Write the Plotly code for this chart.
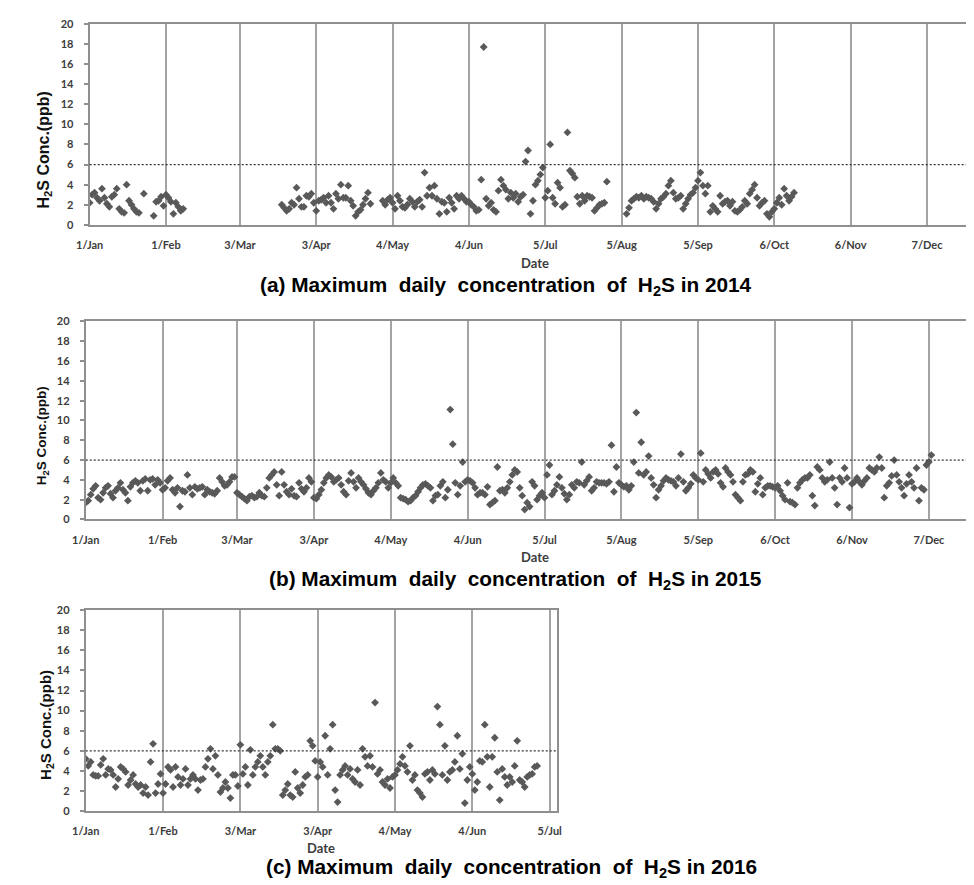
import plotly.graph_objects as go
import pandas as pd

W, H = 974, 885

# ---------------- data (maximum daily H2S concentration, ppb) ----------------
tick_labels_full = ["1/Jan", "1/Feb", "3/Mar", "3/Apr", "4/May", "4/Jun",
                    "5/Jul", "5/Aug", "5/Sep", "6/Oct", "6/Nov", "7/Dec"]
tick_labels_2016 = ["1/Jan", "1/Feb", "3/Mar", "3/Apr", "4/May", "4/Jun", "5/Jul"]
threshold_ppb = 6

# 2014: Jan 1 -> Feb 8
start_2014_a = "2014-01-01"
conc_2014_a = [2.2, 3.0, 3.2, 2.7, 2.4, 3.6, 2.7, 2.1, 1.8, 2.8,
               3.0, 3.6, 1.6, 1.3, 1.2, 4.0, 2.4, 2.0, 1.6, 1.3,
               1.2, None, 3.1, None, None, None, 0.9, 2.3, 2.4, 2.8,
               1.9, 3.0, 2.7, 2.3, 1.1, 2.2, 1.8, 1.4, 1.6]
# 2014: Mar 20 -> Oct 14
start_2014_b = "2014-03-20"
conc_2014_b = [2.0, 1.7, 1.4, 1.6, 2.2, 2.0, 3.7, 2.6, 1.8, 1.8,
               2.9, 2.8, 3.1, 2.2, 1.4, 2.4, 2.5, 2.7, 2.2, 2.9,
               2.2, 1.6, 3.1, 2.6, 4.0, 2.7, 2.7, 3.9, 2.4, 1.9,
               0.9, 1.3, 1.5, 2.0, 2.6, 3.2, 2.1,
               None, None, None, None,
               2.4, 2.0, 2.5, 2.7, 2.2, 1.6, 2.9, 2.4, 1.8, 1.7,
               2.0, 2.6, 2.3, 1.8, 2.3, 2.5, 1.8, 5.2, 2.9, 3.7,
               2.9, 3.9, 2.6, 1.1, 2.3, 2.2, 1.3, 2.7, 2.2, 1.6,
               2.9, 2.6, 2.9, 2.6, 2.3, 2.3, 2.0, 1.8, 1.4, 1.5,
               4.5, 17.7, 2.6, 1.9, 2.2, 1.5, 1.3, 3.4, 4.5, 3.9,
               3.5, 2.6, 3.2, 2.7, 3.1, 2.3, 2.8, 3.0, 6.3, 7.4,
               1.1, 2.4, 4.0, 4.4, 5.0, 5.7, 2.7, 3.4, 8.0, 2.7,
               2.1, 4.2, 3.7, 1.8, 2.0, 9.2, 5.4, 5.1, 4.7, 2.8,
               2.1, 2.9, 2.4, 2.9, 2.8, 2.7, 1.4, 1.7, 2.0, 2.1,
               2.2, 4.3,
               None, None, None, None, None, None, None,
               1.1, 1.7, 2.4, 2.6, 2.8, 2.7, 2.9, 2.6, 2.8,
               2.7, 2.6, 2.3, 1.6, 2.1, 2.6, 2.8, 3.1, 3.9, 4.4,
               3.2, 2.6, 2.7, 2.9, 1.6, 2.1, 2.6, 3.0, 3.2, 3.7,
               4.4, 5.2, 3.9, 3.1, 3.9, 1.3, 1.9, 1.6, 1.3, 2.9,
               2.1, 2.3, 2.4, 1.9, 2.3, 1.4, 1.3, 1.5, 1.8, 2.4,
               2.1, 3.1, 3.5, 4.0, 2.7, 1.9, 2.2, 2.4, 1.1, 0.8,
               1.3, 1.6, 2.2, 2.7, 2.0, 3.6, 2.9, 2.4, 2.8, 3.2]

# 2015: Jan 1 -> Dec 8
start_2015 = "2015-01-01"
conc_2015 = [1.7, 1.9, 2.5, 3.1, 3.4, 2.2, 2.0, 2.7, 3.2, 3.4,
             2.6, 2.2, 2.9, 3.2, 3.7, 3.0, 2.7, 1.9, 3.3, 3.7,
             3.9, 3.7, 2.9, 3.9, 4.1, 2.9, 4.0, 4.1, 3.5, 4.0,
             3.7, 3.0, 3.2, 3.9, 4.2, 3.0, 2.7, 3.2, 1.3, 2.9,
             2.8, 4.5, 3.2, 2.5, 3.3, 3.1, 3.2, 3.3, 2.5, 3.0,
             2.8, 2.7, 2.6, 2.9, 4.2, 3.8, 3.4, 3.5, 3.8, 4.3,
             4.3, 2.7, 2.5, 2.3, 2.1, 1.9, 2.3, 2.4, 2.2, 2.3,
             2.7, 2.4, 2.3, 3.2, 4.2, 4.5, 4.8, 3.5, 2.4, 4.8,
             3.5, 2.8, 2.5, 3.1, 2.4, 2.3, 3.7, 3.1, 2.8, 3.2,
             4.2, 3.8, 2.2, 2.1, 2.5, 3.0, 3.7, 4.2, 4.5, 4.3,
             3.8,
             4.0, 4.2, 3.5, 2.8, 2.5, 3.9, 4.7, 3.8, 3.2, 4.2,
             3.8, 3.5, 3.1, 2.7, 2.5, 2.9, 3.2, 3.7, 4.7, 4.0,
             3.8, 3.2, 3.7, 4.2, 3.7, 3.4, 2.2, 2.1, 2.0, 1.8,
             1.9, 2.2, 2.4, 2.8, 3.2, 3.5, 3.6, 3.4, 3.2, 1.9,
             2.4, 2.5, 3.4, 3.8, 2.2, 3.0, 11.1, 7.6, 3.7, 2.5,
             3.4, 5.8, 3.8, 4.0, 3.9, 3.7, 3.2, 2.5, 2.7, 2.7,
             2.5, 3.3, 1.5, 1.7, 1.9, 5.3, 2.9, 3.0, 2.7, 3.2,
             3.8, 4.5, 5.0, 4.8, 3.2, 2.4, 1.0, 1.7, 1.3, 3.8,
             3.4, 2.0, 2.4, 2.7, 2.2, 4.5, 5.5, 2.5, 2.9, 3.5,
             4.3, 3.2, 2.6, 2.0, 2.5, 3.5, 3.2, 3.8, 3.7, 5.8,
             3.5, 3.9, 4.3, 2.9, 3.2, 3.8, 3.7, 3.7, 3.7, 3.6,
             3.8, 7.5, 2.8, 5.3, 3.7, 3.5, 3.3, 3.4, 3.0, 3.4,
             5.8, 10.8, 4.7, 7.8, 4.5, 4.8, 6.4, 4.2, 3.5, 2.2,
             3.0, 3.4, 3.9, 4.2, 4.0, 3.9, 3.8, 3.4, 4.2, 6.6,
             3.8, 2.9, 3.2, 3.6, 4.5, 4.2, 4.0, 6.7, 3.8, 5.0,
             4.6, 4.2, 4.8, 5.0, 4.6, 3.7, 3.3, 5.2, 4.8, 4.5,
             3.8, 2.5, 2.2, 1.9, 3.8, 4.5, 4.6, 5.0, 4.8, 2.8,
             3.6, 4.2, 2.5, 3.2, 3.4, 3.4, 3.3, 3.2, 3.4, 2.9,
             2.4, 2.0, 3.7, 1.8, 1.7, 1.5, 3.2, 3.7, 4.0, 4.2,
             4.2, 4.5, 2.4, 1.4, 5.3, 5.0, 4.2, 3.8, 4.0, 5.8,
             4.2, 3.2, 1.5, 4.2, 3.8, 5.2, 4.2, 1.2, 3.6, 3.8,
             4.2, 3.8, 3.5, 3.9, 4.2, 5.2, 5.0, 4.8, 5.2, 6.3,
             5.2, 2.2, 3.4, 3.7, 4.4, 6.0, 4.5, 3.8, 3.2, 2.4,
             3.6, 4.5, 3.8, 3.2, 5.2, 1.9, 3.2, 3.0, 5.5, 5.8,
             6.5]

# 2016: Jan 1 -> Jun 30
start_2016 = "2016-01-01"
conc_2016 = [5.2, 4.5, 4.9, 3.6, 3.5, 3.5, 4.6, 5.2, 3.6, 4.2,
             4.1, 3.6, 2.4, 3.2, 4.4, 4.2, 3.9, 2.6, 3.1, 3.6,
             2.7, 2.4, 2.6, 1.8, 2.4, 1.6, 4.9, 6.7, 1.8, 2.7,
             3.7, 1.8, 2.7, 4.4, 4.1, 2.4, 4.4, 3.4, 2.6, 3.2,
             4.2, 2.6, 3.2, 3.6, 3.2, 2.1, 3.1, 3.2, 4.4, 5.2,
             6.2, 4.2, 5.5, 3.6, 1.9, 2.3, 2.9, 2.3, 1.3, 3.6,
             3.6, 2.5, 6.6, 3.7, 4.4, 2.6, 6.1, 3.6, 4.4, 4.9,
             5.5, 4.4, 3.6, 4.9, 5.5, 8.6, 6.2, 6.2, 6.0, 1.6,
             2.1, 2.7, 1.6, 1.4, 3.9, 2.3, 1.8, 2.6, 3.4, 3.6,
             7.0, 6.5, 5.0, 3.4, 4.9, 4.4, 7.5, 3.6, 6.2, 8.6,
             2.1, 0.9, 3.6, 4.1, 4.5, 3.6, 4.2, 3.2, 2.9, 4.1,
             2.6, 6.2, 5.4, 4.5, 5.5, 4.4, 10.8, 3.7, 4.1, 2.9,
             2.6, 3.2, 2.3, 3.4, 3.6, 4.1, 4.7, 5.4, 4.5, 3.9,
             6.5, 3.1, 3.6, 2.1, 1.8, 1.4, 3.7, 3.9, 3.1, 4.1,
             3.7, 10.4, 8.6, 3.6, 6.5, 3.1, 3.9, 4.1, 4.9, 7.5,
             4.2, 5.7, 0.8, 3.1, 4.4, 3.7, 2.1, 2.9, 5.0, 4.9,
             8.6, 5.4, 2.4, 5.4, 7.3, 3.9, 1.1, 4.2, 3.4, 2.6,
             3.4, 2.9, 4.5, 7.0, 3.1, 2.9, 2.4, 3.4, 3.6, 3.7,
             4.4, 4.5]

# ---------------- styling ----------------
MARKER_COLOR = "#595959"
FRAME = "#8f8f8f"
GRID = "#a3a3a3"
TICK_FONT = dict(family="Lato, Open Sans, sans-serif", size=11, color="#3c3c3c", weight="bold")
TITLE_FONT = dict(family="Liberation Sans, Arial, sans-serif", size=20.8, color="#000000", weight="bold")


def xp(px):
    return px / W


def yp(py):
    return 1 - py / H


def dates(start, values):
    return pd.date_range(start, periods=len(values), freq="D")


def ticks(labels, year):
    return [pd.to_datetime(f"{lab}/{year}", format="%d/%b/%Y") for lab in labels]


fig = go.Figure()

panels = [
    # (axis suffix, series, year, labels, x px left, x px right, y px top, y px bottom, days span)
    ("", [(start_2014_a, conc_2014_a), (start_2014_b, conc_2014_b)], 2014, tick_labels_full, 69, 974, 9, 213, 360.3),
    ("2", [(start_2015, conc_2015)], 2015, tick_labels_full, 65, 974, 311, 512, 359.4),
    ("3", [(start_2016, conc_2016)], 2016, tick_labels_2016, 65, 546, 604, 808, 189.1),
]

layout_axes = {}
for suffix, series, year, labels, xl, xr, yt, yb, span in panels:
    for start, vals in series:
        fig.add_trace(go.Scatter(
            x=dates(start, vals), y=vals, mode="markers",
            marker=dict(symbol="diamond", size=6, color=MARKER_COLOR),
            xaxis="x" + suffix, yaxis="y" + suffix, showlegend=False,
            hoverinfo="x+y"))
    t0 = pd.Timestamp(f"{year}-01-01")
    layout_axes["xaxis" + suffix] = dict(
        domain=[xp(xl), xp(xr)], anchor="y" + suffix, type="date",
        range=[t0, t0 + pd.Timedelta(days=span)],
        tickvals=ticks(labels, year), ticktext=labels,
        showgrid=True, gridcolor=GRID, gridwidth=1.5,
        showline=True, linecolor=FRAME, linewidth=2, mirror=True,
        ticks="", tickfont=TICK_FONT, ticklabelstandoff=9,
        zeroline=False, fixedrange=True)
    layout_axes["yaxis" + suffix] = dict(
        domain=[yp(yb), yp(yt)], anchor="x" + suffix,
        range=[0, 20], tickvals=list(range(0, 21, 2)),
        showgrid=False, zeroline=False,
        showline=True, linecolor=FRAME, linewidth=2, mirror=(suffix == "3"),
        ticks="outside", ticklen=4, tickcolor=FRAME, tickwidth=1.5,
        tickfont=TICK_FONT, ticklabelstandoff=8, fixedrange=True)
    fig.add_shape(type="line", xref=f"x{suffix} domain", yref="y" + suffix,
                  x0=0, x1=1, y0=threshold_ppb, y1=threshold_ppb,
                  line=dict(color="#333333", width=1.2, dash="2px,2px"))

annotations = []
# x-axis titles
for x, y in [(523, 252), (523, 550), (305, 845)]:
    annotations.append(dict(text="Date", x=xp(x), y=yp(y), xref="paper", yref="paper",
                            showarrow=False, xanchor="center", yanchor="middle",
                            font=dict(family="Lato, Open Sans, sans-serif", size=13,
                                      color="#3c3c3c", weight="bold")))
# y-axis titles
for x, y, s in [(23, 137, 16), (21, 427, 13.5), (25, 721, 15)]:
    annotations.append(dict(text="H<sub>2</sub>S Conc.(ppb)", x=xp(x), y=yp(y),
                            xref="paper", yref="paper", textangle=-90,
                            showarrow=False, xanchor="center", yanchor="middle",
                            font=dict(family="Liberation Sans, Arial, sans-serif", size=s,
                                      color="#111111", weight="bold")))
# panel captions
NB = "\u00a0"
for tag, year, x, y in [("(a)", 2014, 494, 275), ("(b)", 2015, 503, 573), ("(c)", 2016, 499, 866)]:
    txt = (f"{tag} Maximum{NB}{NB}daily{NB}{NB}concentration{NB}{NB}of{NB}{NB}"
           f"H<sub>2</sub>S in {year}")
    annotations.append(dict(text=txt, x=xp(x), y=yp(y), xref="paper", yref="paper",
                            showarrow=False, xanchor="center", yanchor="middle",
                            font=TITLE_FONT))

fig.update_layout(
    width=W, height=H, autosize=False,
    margin=dict(l=0, r=0, t=0, b=0),
    paper_bgcolor="white", plot_bgcolor="white",
    annotations=annotations,
    **layout_axes)

fig.write_html("out.html", config={"displayModeBar": False})
